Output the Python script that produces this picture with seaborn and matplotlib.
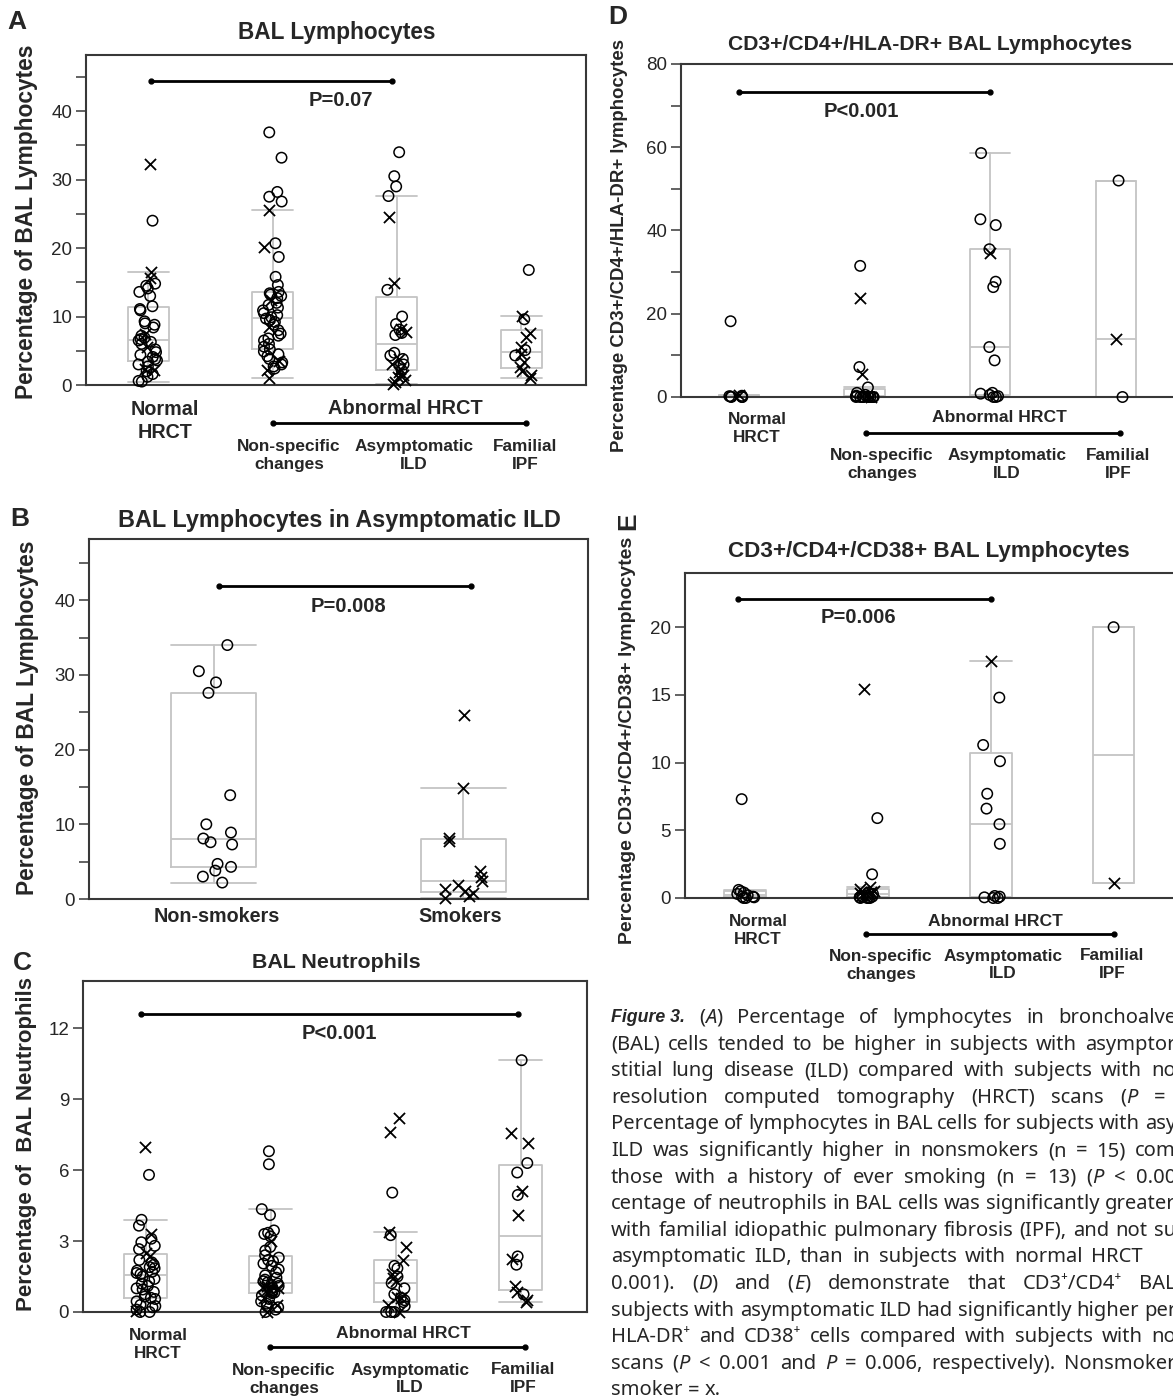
import re
import numpy as np
import pandas as pd
import matplotlib
matplotlib.use("Agg")
import matplotlib.pyplot as plt
from matplotlib.lines import Line2D
from matplotlib.ticker import MultipleLocator
import seaborn as sns

# ------------------------------------------------------------------ data
GROUPS = ["Normal HRCT", "Non-specific changes", "Asymptomatic ILD", "Familial IPF"]
SMOKE_GROUPS = ["Non-smokers", "Smokers"]

# Panel A - % BAL lymphocytes  (o = nonsmoker, x = smoker)
A_normal_o = [0.5, 0.6, 1.2, 1.6, 2.0, 2.7, 3.0, 3.4, 3.6, 3.8, 4.1, 4.4, 4.8, 5.2,
              6.0, 6.3, 6.5, 6.7, 6.9, 7.2, 8.4, 8.8, 9.0, 9.3, 10.9, 11.1, 11.5,
              13.0, 13.6, 14.1, 14.5, 14.8, 24.0]
A_normal_x = [2.2, 2.4, 5.6, 7.5, 15.6, 16.5, 32.3]
A_nonspec_o = [2.4, 2.7, 3.0, 3.3, 3.8, 4.2, 4.5, 4.9, 5.2, 5.6, 6.0, 6.5, 6.8, 7.2,
               7.5, 8.0, 8.8, 9.2, 9.5, 9.7, 9.9, 10.2, 10.5, 10.9, 11.3, 11.7, 12.0,
               12.7, 13.0, 13.2, 13.4, 13.6, 14.6, 15.8, 18.7, 20.7, 26.8, 27.5,
               28.2, 33.2, 36.9]
A_nonspec_x = [1.0, 2.2, 3.5, 8.4, 12.4, 20.2, 25.6]
A_familial_o = [16.8, 9.6, 5.1, 4.3]
A_familial_x = [10.1, 7.6, 7.0, 5.6, 4.6, 3.4, 2.6, 2.0, 1.5, 1.0]

# Panel B - % BAL lymphocytes in asymptomatic ILD (also the ILD group of panel A)
B_nonsmokers = [34.0, 30.5, 29.0, 27.6, 13.9, 10.0, 8.9, 8.1, 7.6, 7.3, 4.7, 4.3,
                3.8, 3.0, 2.2]
B_smokers = [24.6, 14.9, 8.2, 7.8, 3.8, 3.0, 2.4, 1.9, 1.4, 1.1, 0.8, 0.4, 0.1]

# Panel C - % BAL neutrophils
C_normal_o = [0.0, 0.0, 0.1, 0.2, 0.25, 0.3, 0.45, 0.55, 0.6, 0.65, 0.75, 0.85,
              0.95, 1.0, 1.1, 1.2, 1.3, 1.4, 1.5, 1.6, 1.65, 1.7, 1.75, 1.85, 1.9,
              2.0, 2.1, 2.2, 2.66, 2.8, 2.95, 3.1, 3.65, 3.9, 5.8]
C_normal_x = [0.05, 2.35, 2.5, 3.3, 7.0]
C_nonspec_o = [0.0, 0.1, 0.2, 0.25, 0.35, 0.45, 0.55, 0.7, 0.8, 0.82, 0.85, 0.92,
               1.02, 1.1, 1.15, 1.2, 1.25, 1.3, 1.37, 1.45, 1.55, 1.68, 1.8, 1.95,
               2.05, 2.15, 2.2, 2.3, 2.4, 2.6, 2.75, 3.2, 3.3, 3.35, 3.45, 4.1, 4.35,
               6.25, 6.8]
C_nonspec_x = [0.0, 0.3, 0.6, 0.9, 0.95, 1.0, 1.05, 1.12, 3.0]
C_asym_o = [0.0, 0.0, 0.0, 0.25, 0.42, 0.5, 0.6, 0.75, 1.0, 1.22, 1.5, 1.85, 1.95,
            3.25, 5.05]
C_asym_x = [0.0, 0.3, 0.6, 0.65, 1.3, 1.45, 1.6, 2.2, 2.75, 3.4, 7.6, 8.2]
C_familial_o = [0.75, 2.0, 2.35, 4.95, 5.9, 6.3, 10.65]
C_familial_x = [0.42, 0.5, 0.85, 1.1, 2.25, 4.1, 5.1, 7.15, 7.55]

# Panel D - % CD3+/CD4+/HLA-DR+ lymphocytes
D_normal_o = [18.2, 0.0, 0.0, 0.0, 0.1, 0.2, 0.3]
D_normal_x = [0.4]
D_nonspec_o = [31.5, 7.2, 2.3, 1.0, 0.5, 0.3, 0.2, 0.1, 0.0, 0.0, 0.0, 0.0, 0.0,
               0.0, 0.0, 0.0]
D_nonspec_x = [23.9, 5.6, 0.2, 0.0]
D_asym_o = [58.6, 42.7, 41.3, 35.5, 27.7, 26.4, 12.0, 8.8, 1.0, 0.8, 0.5, 0.2,
            0.0, 0.0]
D_asym_x = [34.5]
D_familial_o = [52.0, 0.0]
D_familial_x = [14.0]

# Panel E - % CD3+/CD4+/CD38+ lymphocytes
E_normal_o = [7.3, 0.6, 0.5, 0.4, 0.3, 0.2, 0.1, 0.1, 0.05, 0.0, 0.0]
E_normal_x = []
E_nonspec_o = [5.9, 1.75, 0.4, 0.3, 0.2, 0.1, 0.1, 0.05, 0.0, 0.0, 0.0, 0.0]
E_nonspec_x = [15.4, 0.8, 0.7, 0.55, 0.45, 0.35, 0.25, 0.15]
E_asym_o = [14.8, 11.3, 10.1, 7.7, 6.6, 5.45, 4.0, 0.15, 0.1, 0.05, 0.0, 0.0]
E_asym_x = [17.5]
E_familial_o = [20.0]
E_familial_x = [1.1]

CAPTION_HEAD = "Figure 3."
CAPTION_FIRST = "(A) Percentage of lymphocytes in bronchoalve"
CAPTION = [
    "(BAL) cells tended to be higher in subjects with asymptor",
    "stitial lung disease (ILD) compared with subjects with no",
    "resolution computed tomography (HRCT) scans (P =",
    "Percentage of lymphocytes in BAL cells for subjects with asy",
    "ILD was significantly higher in nonsmokers (n = 15) com",
    "those with a history of ever smoking (n = 13) (P < 0.00",
    "centage of neutrophils in BAL cells was significantly greater",
    "with familial idiopathic pulmonary fibrosis (IPF), and not su",
    "asymptomatic ILD, than in subjects with normal HRCT",
    "0.001). (D) and (E) demonstrate that CD3\u207a/CD4\u207a BAL",
    "subjects with asymptomatic ILD had significantly higher per",
    "HLA-DR\u207a and CD38\u207a cells compared with subjects with no",
    "scans (P < 0.001 and P = 0.006, respectively). Nonsmoker",
    "smoker = x.",
]

# ------------------------------------------------------------------ style
sns.set_style("ticks")
plt.rcParams["font.family"] = ["Liberation Sans", "DejaVu Sans"]
np.random.seed(11)

W, H = 1173, 1398
fig = plt.figure(figsize=(W / 100, H / 100), dpi=100)
BOXC = "#c4c4c4"
SPC = "#383838"


def fx(x):
    return x / W


def fy(y):
    return 1 - y / H


def add_ax(l, t, r, b):
    return fig.add_axes([fx(l), fy(b), (r - l) / W, (b - t) / H])


def box_stats(vals):
    v = np.sort(np.asarray(vals, float))
    q1, med, q3 = np.percentile(v, [25, 50, 75], method="weibull")
    iqr = q3 - q1
    lo = v[v >= q1 - 1.5 * iqr].min()
    hi = v[v <= q3 + 1.5 * iqr].max()
    return dict(med=med, q1=q1, q3=q3, whislo=lo, whishi=hi, fliers=[])


def draw_panel(ax, cats, o_lists, x_lists, box_w, jit=0.08):
    rows = []
    for c, ol, xl in zip(cats, o_lists, x_lists):
        rows += [(c, v, "o") for v in ol] + [(c, v, "x") for v in xl]
    df = pd.DataFrame(rows, columns=["group", "value", "smoke"])
    stats = [box_stats(list(o) + list(x)) for o, x in zip(o_lists, x_lists)]
    lp = dict(color=BOXC, linewidth=1.3)
    ax.bxp(stats, positions=np.arange(len(cats)), widths=box_w, capwidths=box_w,
           showfliers=False, manage_ticks=False, patch_artist=False,
           boxprops=lp, whiskerprops=lp, capprops=lp, medianprops=lp)
    sns.stripplot(data=df[df.smoke == "o"], x="group", y="value", order=cats, ax=ax,
                  marker="o", size=7.5, facecolors="none", edgecolor="black",
                  linewidth=1.1, jitter=jit, zorder=3)
    sns.stripplot(data=df[df.smoke == "x"], x="group", y="value", order=cats, ax=ax,
                  marker="x", color="black", size=8, linewidth=1.3, jitter=jit,
                  zorder=3)
    for c in list(ax.collections):
        if len(c.get_offsets()) == 0:
            c.remove()
        else:
            c.set_clip_on(False)
    ax.set_xlabel("")
    ax.set_ylabel("")
    ax.set_xticks([])
    for s in ax.spines.values():
        s.set_color(SPC)
        s.set_linewidth(1.5)
    ax.tick_params(axis="y", which="both", length=7, width=1.1, color=SPC,
                   labelsize=13.5, pad=3)


def sig(ax, x0, x1, y, text, ty, tx):
    ax.plot([x0, x1], [y, y], color="black", lw=2, marker="o", ms=3.5, clip_on=False)
    ax.text(tx, ty, text, ha="center", va="center", fontsize=14.5, fontweight="bold")


def ftext(x, y, s, size, bold=True, rot=0, ls=1.2, **kw):
    fig.text(fx(x), fy(y), s, fontsize=size, fontweight="bold" if bold else "normal",
             rotation=rot, ha="center", va="center", linespacing=ls, **kw)


def bracket(x0, x1, y):
    fig.add_artist(Line2D([fx(x0), fx(x1)], [fy(y), fy(y)], color="black", lw=2,
                          marker="o", ms=3.5))


def group_labels(xs, y_norm, y_abn, y_line, line_x, y_sub, s1, s2, s3):
    ftext(xs[0], y_norm, "Normal\nHRCT", s1, ls=1.25)
    ftext(xs[1], y_abn, "Abnormal HRCT", s3)
    bracket(line_x[0], line_x[1], y_line)
    ftext(xs[2], y_sub, "Non-specific\nchanges", s2, ls=1.25)
    ftext(xs[3], y_sub, "Asymptomatic\nILD", s2, ls=1.25)
    ftext(xs[4], y_sub, "Familial\nIPF", s2, ls=1.25)


# ------------------------------------------------------------------ Panel A
axA = add_ax(86, 55, 586, 385)
draw_panel(axA, GROUPS, [A_normal_o, A_nonspec_o, B_nonsmokers, A_familial_o],
           [A_normal_x, A_nonspec_x, B_smokers, A_familial_x], 0.33)
axA.set_xlim(-0.5, 3.52)
axA.set_ylim(0, 48.2)
axA.yaxis.set_major_locator(MultipleLocator(10))
axA.yaxis.set_minor_locator(MultipleLocator(5))
sig(axA, 0.02, 1.96, 44.4, "P=0.07", 41.6, 1.55)
ftext(17, 22, "A", 19)
ftext(337, 33, "BAL Lymphocytes", 16.3)
ftext(27, 222, "Percentage of BAL Lymphocytes", 16.4, rot=90)
group_labels([165, 405, 289, 414, 525], 421, 408, 423, (273, 526), 456, 14.2, 12.4, 14.4)

# ------------------------------------------------------------------ Panel B
axB = add_ax(89, 539, 588, 899)
draw_panel(axB, SMOKE_GROUPS, [B_nonsmokers, []], [[], B_smokers], 0.34)
axB.set_xlim(-0.5, 1.5)
axB.set_ylim(0, 48.2)
axB.yaxis.set_major_locator(MultipleLocator(10))
axB.yaxis.set_minor_locator(MultipleLocator(5))
sig(axB, 0.02, 1.03, 41.9, "P=0.008", 39.1, 0.54)
ftext(20, 519, "B", 19)
ftext(339, 520, "BAL Lymphocytes in Asymptomatic ILD", 16.8)
ftext(28, 718, "Percentage of BAL Lymphocytes", 16.4, rot=90)
ftext(217, 917, "Non-smokers", 14.2)
ftext(460, 917, "Smokers", 14.2)

# ------------------------------------------------------------------ Panel C
axC = add_ax(83, 981, 587, 1312)
draw_panel(axC, GROUPS, [C_normal_o, C_nonspec_o, C_asym_o, C_familial_o],
           [C_normal_x, C_nonspec_x, C_asym_x, C_familial_x], 0.34)
axC.set_xlim(-0.5, 3.53)
axC.set_ylim(0, 14)
axC.yaxis.set_major_locator(MultipleLocator(3))
sig(axC, -0.04, 2.98, 12.62, "P<0.001", 11.8, 1.55)
ftext(22, 963, "C", 19)
ftext(336, 962, "BAL Neutrophils", 15.4)
ftext(27, 1144, "Percentage of  BAL Neutrophils", 16, rot=90)
group_labels([158, 403, 284, 410, 523], 1345, 1334, 1347, (270, 525), 1379,
             12.3, 12.4, 12.6)

# ------------------------------------------------------------------ Panel D
axD = add_ax(681, 64, 1179, 397)
draw_panel(axD, GROUPS, [D_normal_o, D_nonspec_o, D_asym_o, D_familial_o],
           [D_normal_x, D_nonspec_x, D_asym_x, D_familial_x], 0.32)
axD.set_xlim(-0.46, 3.5)
axD.set_ylim(0, 80)
axD.yaxis.set_major_locator(MultipleLocator(20))
axD.yaxis.set_minor_locator(MultipleLocator(10))
sig(axD, 0.0, 2.0, 73.3, "P<0.001", 68.7, 0.97)
ftext(618, 17, "D", 19)
ftext(930, 45, "CD3+/CD4+/HLA-DR+ BAL Lymphocytes", 15.2)
ftext(620, 246, "Percentage CD3+/CD4+/HLA-DR+ lymphocytes", 13.4, rot=90)
group_labels([757, 999, 882, 1007, 1118], 429, 418, 433, (866, 1120), 465,
             12.3, 12.4, 12.6)

# ------------------------------------------------------------------ Panel E
axE = add_ax(685, 573, 1175, 898)
draw_panel(axE, GROUPS, [E_normal_o, E_nonspec_o, E_asym_o, E_familial_o],
           [E_normal_x, E_nonspec_x, E_asym_x, E_familial_x], 0.34)
axE.set_xlim(-0.49, 3.5)
axE.set_ylim(0, 24)
axE.yaxis.set_major_locator(MultipleLocator(5))
sig(axE, -0.06, 2.0, 22.1, "P=0.006", 20.7, 0.92)
ftext(628, 521, "E", 19, rot=90)
ftext(929, 552, "CD3+/CD4+/CD38+ BAL Lymphocytes", 16.2)
ftext(627, 740, "Percentage CD3+/CD4+/CD38+ lymphocytes", 14, rot=90)
group_labels([758, 995, 881, 1003, 1112], 930, 921, 934, (866, 1114), 965,
             12.3, 12.4, 12.6)

# ------------------------------------------------------------------ caption
CAPF = ["Noto Sans", "DejaVu Sans"]
CAPS = 14.5
renderer = fig.canvas.get_renderer()


def split_word(w):
    m = re.match(r"^\(([A-E])\)(.*)$", w)
    if m:
        return [("(", "normal"), (m.group(1), "italic"), (")" + m.group(2), "normal")]
    if w == "(P":
        return [("(", "normal"), ("P", "italic")]
    if w == "P":
        return [("P", "italic")]
    return [(w, "normal")]


def measure(t):
    return t.get_window_extent(renderer).width


probe = fig.text(0, 0, "x x", fontsize=CAPS, family=CAPF)
probe2 = fig.text(0, 0, "xx", fontsize=CAPS, family=CAPF)
SPACE = measure(probe) - measure(probe2)
probe.remove()
probe2.remove()


def cap_line(y, line, x0, x1, justify=True):
    words = []
    for w in line.split(" "):
        pieces = []
        for s, st in split_word(w):
            t = fig.text(fx(x0), fy(y), s, fontsize=CAPS, family=CAPF, style=st,
                         va="center", ha="left")
            pieces.append((t, measure(t)))
        words.append(pieces)
    wwidths = [sum(p[1] for p in pcs) for pcs in words]
    if justify and len(words) > 1:
        gap = max(SPACE * 0.7, (x1 - x0 - sum(wwidths)) / (len(words) - 1))
    else:
        gap = SPACE
    x = x0
    for pcs, ww in zip(words, wwidths):
        xx = x
        for t, w in pcs:
            t.set_x(fx(xx))
            xx += w
        x += ww + gap


fig.text(fx(611), fy(1018), CAPTION_HEAD, fontsize=12.8,
         family=["Liberation Sans", "DejaVu Sans"], fontweight="bold",
         style="italic", va="center", ha="left")
cap_line(1018, CAPTION_FIRST, 699, 1176)
RIGHT_EDGES = [1176, 1176, 1165, 1176, 1176, 1176, 1176, 1176, 1143, 1176, 1176,
               1176, 1176, None]
for i, (line, xr) in enumerate(zip(CAPTION, RIGHT_EDGES)):
    cap_line(1018 + 26.6 * (i + 1), line, 611, xr if xr else 0,
             justify=xr is not None)

fig.savefig("out.png", dpi=100)
